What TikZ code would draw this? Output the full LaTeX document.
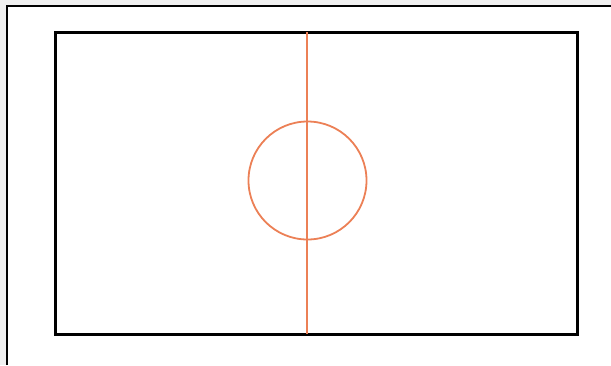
\documentclass[tikz,border=0pt]{standalone}
\definecolor{pitchline}{RGB}{236,128,86}
\definecolor{framegray}{RGB}{240,240,240}
\begin{document}
\begin{tikzpicture}[x=1pt,y=-1pt]
			\useasboundingbox (0,0) rectangle (611,365);
			\fill[white] (0,0) rectangle (611,365);
			\fill[framegray] (0,0) rectangle (611,6);
			\fill[framegray] (0,0) rectangle (7,365);
			\draw[line width=1.4pt] (7,365) -- (7,6) -- (611,6);
			\coordinate(Top) 		at (307,32);
			\coordinate(Bottom) 	at (307,334);
			\node(Centre) [circle,draw=pitchline,line width=1.8pt,minimum size=118pt,inner sep=0pt] at (307.5,180.5) {};
			\draw[line width=3pt] (55,32) rectangle (577,334);
			\draw[pitchline,line width=1.8pt](Top)      -- (Bottom);
		\end{tikzpicture}
\end{document}
